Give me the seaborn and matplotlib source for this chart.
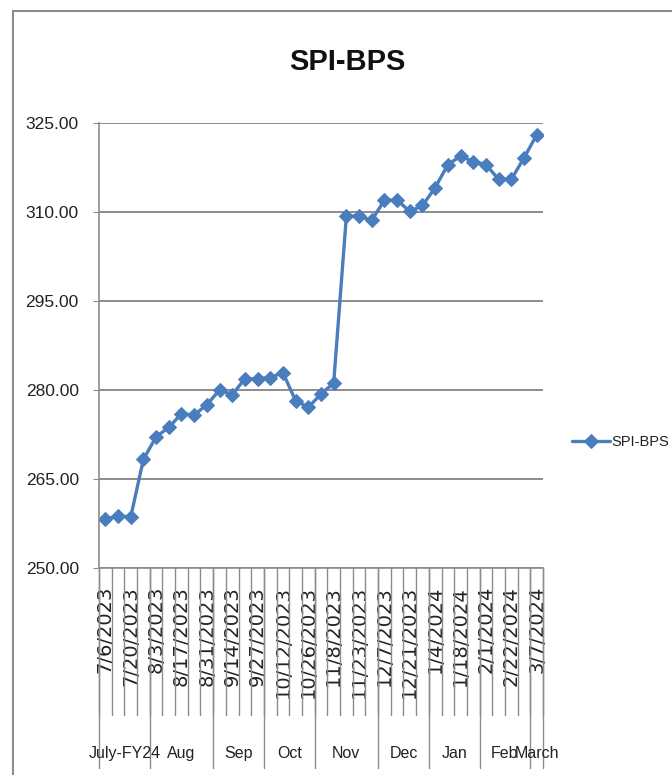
import numpy as np
import matplotlib.pyplot as plt
import seaborn as sns
import pandas as pd
from matplotlib.patches import Rectangle

# weekly SPI-BPS readings, FY24 (July 2023 - March 2024)
dates = ["7/6/2023", "7/13/2023", "7/20/2023", "7/27/2023",
         "8/3/2023", "8/10/2023", "8/17/2023", "8/24/2023", "8/31/2023",
         "9/7/2023", "9/14/2023", "9/21/2023", "9/27/2023",
         "10/5/2023", "10/12/2023", "10/19/2023", "10/26/2023",
         "11/2/2023", "11/8/2023", "11/16/2023", "11/23/2023", "11/30/2023",
         "12/7/2023", "12/14/2023", "12/21/2023", "12/28/2023",
         "1/4/2024", "1/11/2024", "1/18/2024", "1/25/2024",
         "2/1/2024", "2/15/2024", "2/22/2024", "2/29/2024",
         "3/7/2024"]
spi = [258.2, 258.8, 258.6, 268.3, 272.1, 273.7, 276.0, 275.8, 277.5,
       280.0, 279.2, 281.9, 281.9, 282.1, 282.9, 278.2, 277.1, 279.3,
       281.2, 309.3, 309.3, 308.6, 312.0, 312.0, 310.1, 311.1, 314.1,
       318.0, 319.4, 318.5, 318.0, 315.5, 315.5, 319.1, 323.0]
months = ["July-FY24", "Aug", "Sep", "Oct", "Nov", "Dec", "Jan", "Feb", "March"]
weeks_in_month = [4, 5, 4, 4, 5, 4, 4, 4, 1]
y_ticks = [250, 265, 280, 295, 310, 325]

blue = "#4a7dbd"
gray = "#8c8c8c"
txt = "#222222"

sns.set_style("white")
plt.rcParams["font.family"] = ["Liberation Sans", "DejaVu Sans"]

df = pd.DataFrame({"pos": np.arange(len(dates)), "SPI-BPS": spi})

fig = plt.figure(figsize=(6.72, 7.75), dpi=100)
ax = fig.add_axes([99 / 672, 1 - 568 / 775, 444 / 672, 445 / 775])

sns.lineplot(data=df, x="pos", y="SPI-BPS", ax=ax, color=blue, lw=2.4,
             marker="D", markersize=7, markeredgecolor=blue, label="SPI-BPS")

ax.set_xlim(-0.5, len(dates) - 0.5)
ax.set_ylim(y_ticks[0], y_ticks[-1])
ax.set_yticks(y_ticks)
ax.set_yticklabels([f"{v:.2f}" for v in y_ticks])
ax.set_xlabel("")
ax.set_ylabel("")
ax.yaxis.grid(True, color=gray, lw=1.4)
ax.set_axisbelow(True)
sns.despine(ax=ax)
for s in ["left", "bottom"]:
    ax.spines[s].set_color(gray)
    ax.spines[s].set_linewidth(1.2)

ax.tick_params(axis="y", direction="out", length=4.5, color=gray, pad=10,
               labelsize=12.5, labelcolor=txt, left=True)

# date labels every other week
ax.set_xticks(df["pos"][::2])
ax.set_xticklabels(dates[::2], rotation=90, va="top", family="DejaVu Sans",
                   fontsize=14, color=txt)
ax.tick_params(axis="x", length=0, pad=13)

# excel style two-level category axis
trans = ax.get_xaxis_transform()
bounds = np.arange(len(dates) + 1) - 0.5
for b in bounds:
    ax.plot([b, b], [0, -0.33], transform=trans, clip_on=False, color=gray, lw=1)
edges = np.concatenate([[0], np.cumsum(weeks_in_month)]) - 0.5
for b in edges:
    ax.plot([b, b], [0, -0.449], transform=trans, clip_on=False, color=gray, lw=1)
for m, c in zip(months, (edges[:-1] + edges[1:]) / 2):
    ax.text(c, -0.416, m, transform=trans, ha="center", va="center",
            fontsize=11.5, color=txt)

ax.legend(loc="center left", bbox_to_anchor=(1.065, 0.283), frameon=False,
          handlelength=2.6, borderpad=0, borderaxespad=0, handletextpad=0.1,
          fontsize=10.5, labelcolor=txt)

fig.text(347 / 672, 1 - 62 / 775, "SPI-BPS", ha="center", va="center",
         fontsize=21, fontweight="bold", color="#111111")

# chart area frame (right/bottom edges are cut off in the source)
fig.add_artist(Rectangle((13 / 672, -0.1), 1.2, 1.0858, transform=fig.transFigure,
                         fill=False, ec=gray, lw=1.5))

fig.savefig("out.png", dpi=100)
